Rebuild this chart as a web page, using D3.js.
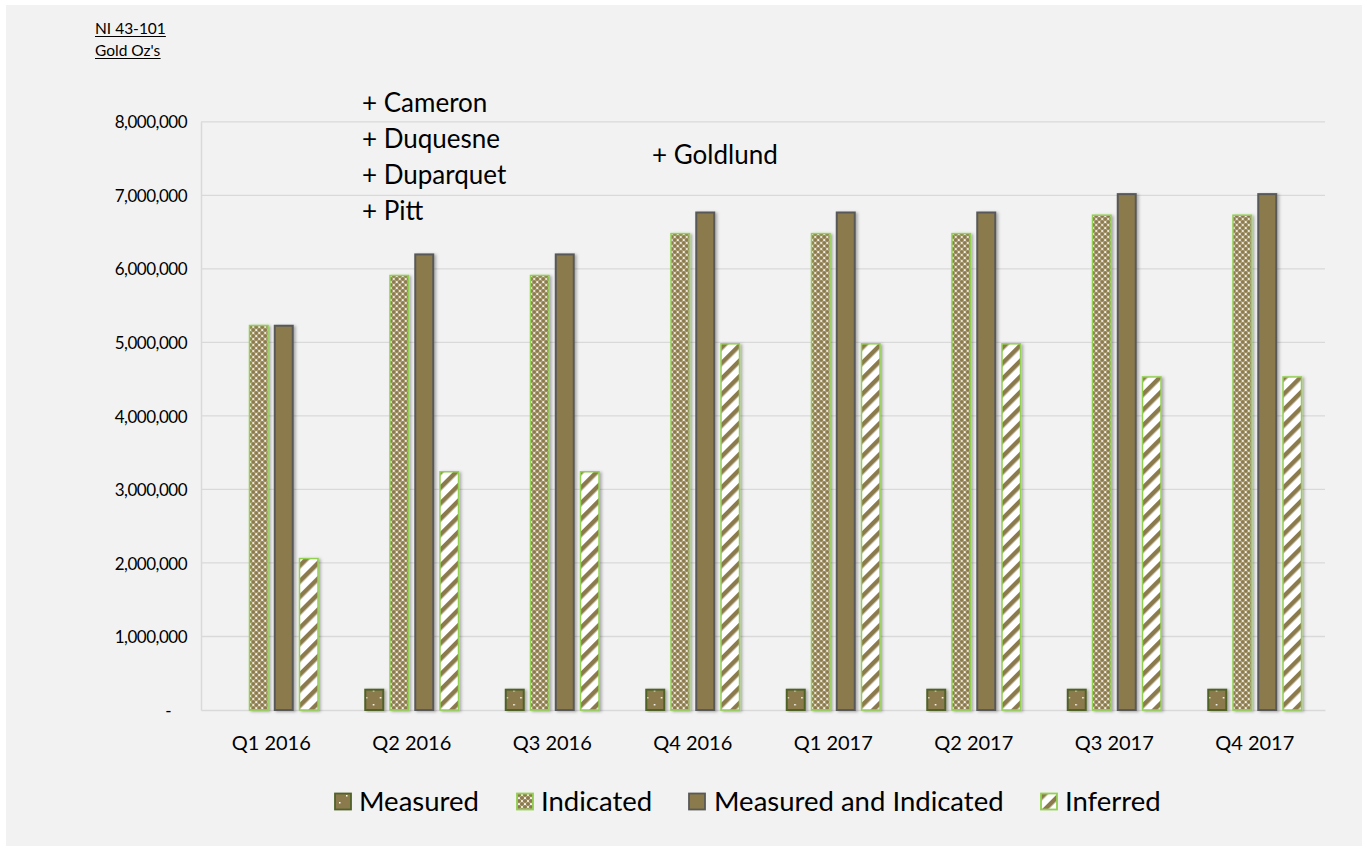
<!DOCTYPE html>
<html><head><meta charset="utf-8">
<script src="https://cdn.jsdelivr.net/npm/d3@7"></script>
<style>
html,body{margin:0;padding:0;background:#fff;}
svg{display:block;}
text{font-family:Lato,"Open Sans",sans-serif;fill:#000;}
</style></head>
<body>
<svg id="chart" width="1362" height="846"></svg>
<script>
const categories = ["Q1 2016","Q2 2016","Q3 2016","Q4 2016","Q1 2017","Q2 2017","Q3 2017","Q4 2017"];
const seriesNames = ["Measured","Indicated","Measured and Indicated","Inferred"];
const measured  = [0, 290000, 290000, 290000, 290000, 290000, 290000, 290000];
const indicated = [5240000, 5920000, 5920000, 6490000, 6490000, 6490000, 6740000, 6740000];
const measuredIndicated = [5240000, 6210000, 6210000, 6780000, 6780000, 6780000, 7030000, 7030000];
const inferred  = [2070000, 3250000, 3250000, 4990000, 4990000, 4990000, 4540000, 4540000];
const yTicks = [0,1000000,2000000,3000000,4000000,5000000,6000000,7000000,8000000];
const annotations1 = ["+ Cameron","+ Duquesne","+ Duparquet","+ Pitt"];
const annotation2 = "+ Goldlund";
const axisTitle = ["NI 43-101","Gold Oz's"];

const seriesValues = [measured, indicated, measuredIndicated, inferred];
const OLIVE = "#8b7a4b";

const svg = d3.select("#chart");
const defs = svg.append("defs");

// patterns
const pInd = defs.append("pattern").attr("id","pInd").attr("patternUnits","userSpaceOnUse")
  .attr("width",6).attr("height",6);
pInd.append("rect").attr("width",6).attr("height",6).attr("fill","#ece7da");
[[0,0],[6,0],[0,6],[6,6],[3,3]].forEach(([cx,cy])=>{
  pInd.append("circle").attr("cx",cx).attr("cy",cy).attr("r",2.1).attr("fill",OLIVE);
});
pInd.append("rect").attr("x",2.5).attr("y",0).attr("width",1).attr("height",1).attr("fill","#ffffff");

const pInf = defs.append("pattern").attr("id","pInf").attr("patternUnits","userSpaceOnUse")
  .attr("width",11).attr("height",11).attr("patternTransform","rotate(45)");
pInf.append("rect").attr("width",11).attr("height",11).attr("fill","#ffffff");
pInf.append("rect").attr("width",4.5).attr("height",11).attr("fill",OLIVE);

const pMeas = defs.append("pattern").attr("id","pMeas").attr("patternUnits","userSpaceOnUse")
  .attr("width",14).attr("height",14);
pMeas.append("rect").attr("width",14).attr("height",14).attr("fill",OLIVE);
pMeas.append("rect").attr("x",3).attr("y",4).attr("width",1.5).attr("height",1.5).attr("fill","#fff");
pMeas.append("rect").attr("x",10).attr("y",11).attr("width",1.5).attr("height",1.5).attr("fill","#fff");

const shadow = defs.append("filter").attr("id","shadow").attr("x","-50%").attr("y","-10%").attr("width","200%").attr("height","120%");
shadow.append("feDropShadow").attr("dx",2).attr("dy",1).attr("stdDeviation",1.5)
  .attr("flood-color","#000").attr("flood-opacity",0.3);

const fills = ["url(#pMeas)","url(#pInd)",OLIVE,"url(#pInf)"];
const strokes = ["#4f6228","#92d050","#595959","#92d050"];
const strokeW = [2,1.5,2,1.5];

// background panel
svg.append("rect").attr("x",6).attr("y",5).attr("width",1356).attr("height",841).attr("fill","#f2f2f2");

const plotLeft = 201, plotRight = 1325, plotTop = 121.8, plotBottom = 710;
const x0 = d3.scaleBand().domain(categories).range([plotLeft,plotRight]).padding(0);
const y = d3.scaleLinear().domain([0,8000000]).range([plotBottom, plotTop]);

// gridlines
svg.append("g").selectAll("line").data(yTicks.filter(d=>d>0)).join("line")
  .attr("x1",plotLeft).attr("x2",plotRight).attr("y1",d=>y(d)).attr("y2",d=>y(d))
  .attr("stroke","#d9d9d9").attr("stroke-width",1.3);

// y axis
const yAxis = d3.axisLeft(y).tickValues(yTicks).tickSize(0).tickPadding(14)
  .tickFormat(d=> d===0 ? "-" : d3.format(",")(d));
const gy = svg.append("g").attr("transform",`translate(${plotLeft},0)`).call(yAxis);
gy.select(".domain").attr("stroke","#d9d9d9").attr("stroke-width",1.5);
gy.selectAll("text").style("font-family","Lato, sans-serif").style("font-size","17px")
  .style("letter-spacing","-0.5px").attr("fill","#000").attr("dy","0.36em");
gy.selectAll(".tick").filter(d=>d===0).select("text").attr("dx",-16);

// x axis
const xAxis = d3.axisBottom(x0).tickSize(0).tickPadding(26);
const gx = svg.append("g").attr("transform",`translate(0,${plotBottom})`).call(xAxis);
gx.select(".domain").attr("stroke","#d9d9d9").attr("stroke-width",1.5);
gx.selectAll("text").style("font-family","Lato, sans-serif").style("font-size","20px").attr("fill","#000");

// bars
const groups = svg.append("g").selectAll("g").data(categories).join("g")
  .attr("transform",d=>`translate(${x0(d)+x0.bandwidth()/2},0)`);
const x1 = d3.scaleBand().domain(seriesNames).range([-50,50]).paddingInner(0.2).paddingOuter(0.1);
groups.each(function(cat, ci){
  const g = d3.select(this);
  seriesNames.forEach((s, si)=>{
    const v = seriesValues[si][ci];
    if(!v) return;
    const sw = strokeW[si];
    g.append("rect")
      .attr("x", x1(s)+sw/2).attr("y", y(v)+sw/2)
      .attr("width", x1.bandwidth()-sw).attr("height", y(0)-y(v)-sw/2)
      .attr("fill", fills[si]).attr("stroke", strokes[si]).attr("stroke-width", sw)
      .attr("filter","url(#shadow)");
  });
});

// annotations
svg.append("g").selectAll("text").data(annotations1).join("text")
  .attr("x",362).attr("y",(d,i)=>112+i*36).style("font-size","26px").text(d=>d);
svg.append("text").attr("x",652).attr("y",164).style("font-size","26px").text(annotation2);

// axis title
const tg = svg.append("g");
axisTitle.forEach((t,i)=>{
  const by = 34 + i*22;
  const tx = tg.append("text").attr("x",95).attr("y",by)
    .style("font-size","15.5px").text(t);
  const bb = tx.node().getBBox();
  tg.append("line").attr("x1",bb.x).attr("x2",bb.x+bb.width)
    .attr("y1",by+2.5).attr("y2",by+2.5).attr("stroke","#000").attr("stroke-width",1.2);
});

// legend
const legendSq = [334, 516, 688, 1040];
const legendTx = [359, 541, 714, 1065];
const lg = svg.append("g");
seriesNames.forEach((s,i)=>{
  lg.append("rect").attr("x",legendSq[i]+1).attr("y",793.5).attr("width",16).attr("height",16)
    .attr("fill",fills[i]).attr("stroke",strokes[i]).attr("stroke-width",1.8);
  lg.append("text").attr("x",legendTx[i]).attr("y",811).style("font-size","27.5px").text(s);
});
</script>
</body></html>
